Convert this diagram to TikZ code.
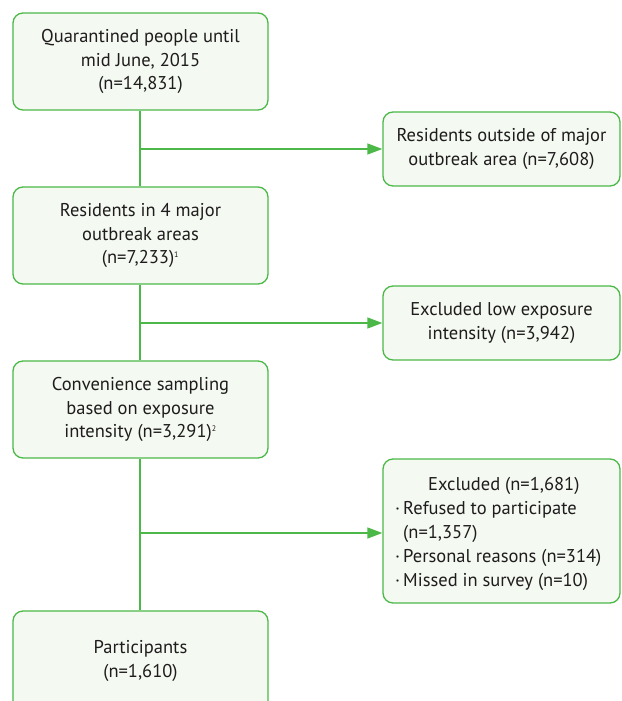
\documentclass[tikz,border=0pt]{standalone}
\usepackage{fontspec}
\setmainfont{PT Sans}
\usetikzlibrary{arrows.meta}
\definecolor{gline}{RGB}{76,184,72}
\definecolor{gfill}{RGB}{244,249,242}
\definecolor{txt}{RGB}{30,28,28}
\begin{document}
\begin{tikzpicture}[x=1pt,y=-1pt,
  box/.style={draw=gline,fill=gfill,line width=1.3pt,rounded corners=10pt,text=txt,
    font=\fontsize{18.5}{23.5}\selectfont,align=center,inner sep=0pt},
  conn/.style={draw=gline,line width=1.3pt},
  arr/.style={conn,-{Triangle[length=15pt,width=11pt]}}]
\useasboundingbox (0,0) rectangle (621,701);
\begin{scope}
\clip (0,0) rectangle (621,701);
\node[box,minimum width=255pt,minimum height=97pt] (b1) at (140.5,61.5) {Quarantined people until\\mid June, 2015\\(n=14,831)};
\node[box,minimum width=255pt,minimum height=97pt] (b2) at (140.5,235.5) {Residents in 4 major\\outbreak areas\\(n=7,233)\textsuperscript{\fontsize{8}{8}\selectfont 1}};
\node[box,minimum width=255pt,minimum height=97pt] (b3) at (140.5,409.5) {Convenience sampling\\based on exposure\\intensity (n=3,291)\textsuperscript{\fontsize{8}{8}\selectfont 2}};
\node[box,minimum width=255pt,minimum height=100pt] (b4) at (140.5,661) {Participants\\(n=1,610)};
\node[box,minimum width=237pt,minimum height=74pt] (r1) at (501.5,149) {Residents outside of major\\outbreak area (n=7,608)};
\node[box,minimum width=237pt,minimum height=74pt] (r2) at (501.5,323) {Excluded low exposure\\intensity (n=3,942)};
\node[box,minimum width=237pt,minimum height=144pt] (r3) at (501.5,531) {};
\node[text=txt,font=\fontsize{18.5}{24}\selectfont,align=left,inner sep=0pt,anchor=north west] (r3t) at (395,477)
 {\hspace*{33pt}Excluded (n=1,681)\\·\,Refused to participate\\\phantom{·\,}(n=1,357)\\·\,Personal reasons (n=314)\\·\,Missed in survey (n=10)};
\coordinate (j1) at (140,149);
\coordinate (j2) at (140,323);
\coordinate (j3) at (140,533);
\draw[conn] (b1.south -| j1) -- (b2.north -| j1);
\draw[conn] (b2.south -| j1) -- (b3.north -| j1);
\draw[conn] (b3.south -| j1) -- (b4.north -| j1);
\draw[arr] (j1) -- (r1.west |- j1);
\draw[arr] (j2) -- (r2.west |- j2);
\draw[arr] (j3) -- (r3.west |- j3);
\end{scope}
\end{tikzpicture}
\end{document}
